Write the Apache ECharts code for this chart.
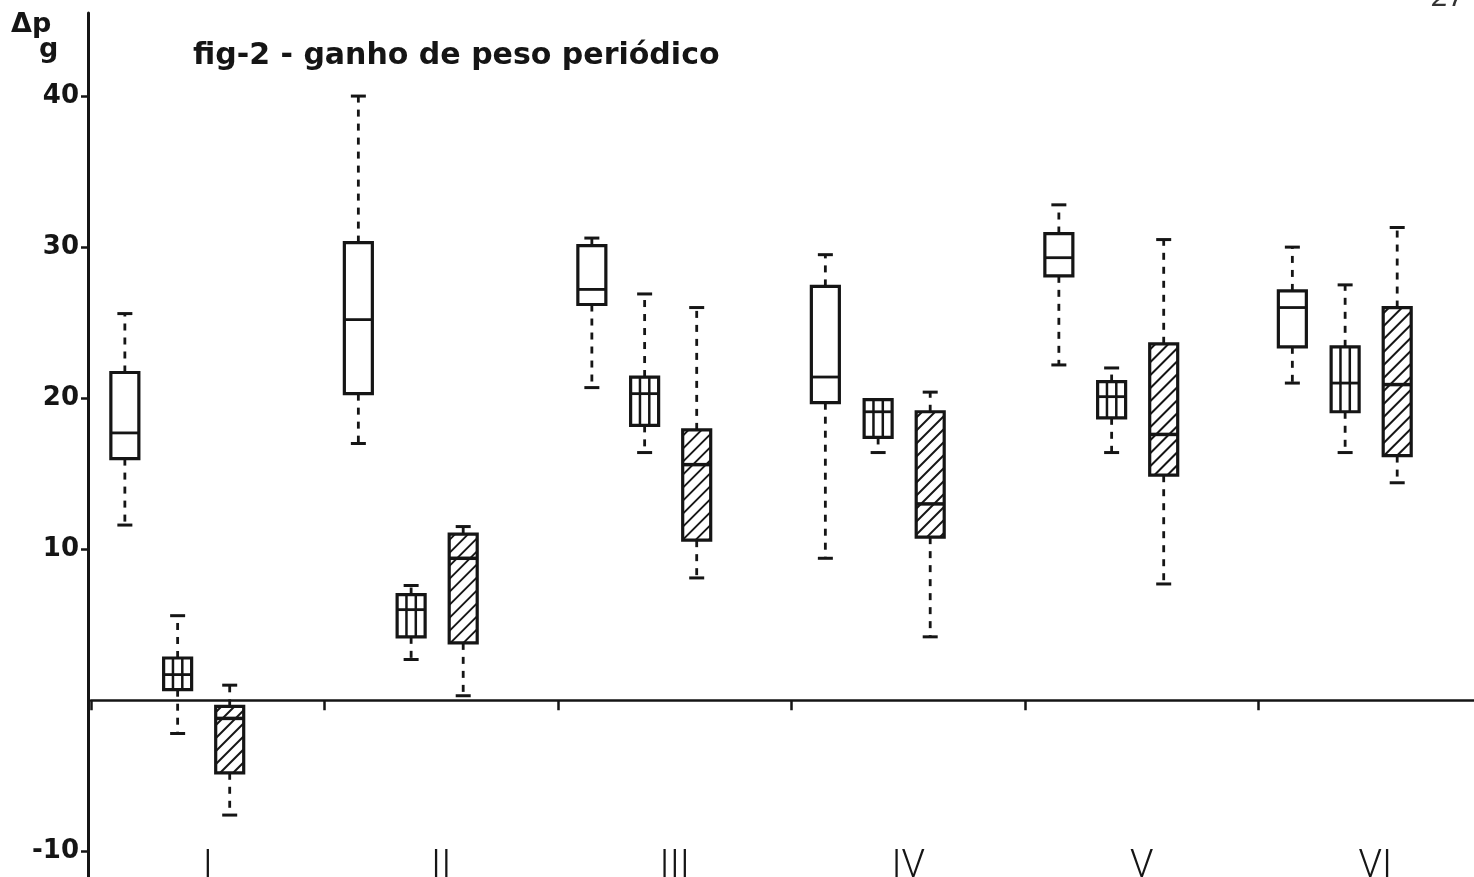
<!DOCTYPE html>
<html>
<head>
<meta charset="utf-8">
<script src="https://cdn.jsdelivr.net/npm/echarts@6/dist/echarts.min.js"></script>
<style>
  html, body { margin: 0; padding: 0; background: #fff; }
  #chart { width: 1474px; height: 877px; }
</style>
</head>
<body>
<div id="chart"></div>
<script>
// ---- data ----
const categories = ['I', 'II', 'III', 'IV', 'V', 'VI'];
const yTicks = [-10, 10, 20, 30, 40];
// each entry: [low whisker, Q1, median, Q3, high whisker]
const plainBoxes = [
  [11.6, 16.0, 17.7, 21.7, 25.6],
  [17.0, 20.3, 25.2, 30.3, 40.0],
  [20.7, 26.2, 27.2, 30.1, 30.6],
  [9.4, 19.7, 21.4, 27.4, 29.5],
  [22.2, 28.1, 29.3, 30.9, 32.8],
  [21.0, 23.4, 26.0, 27.1, 30.0]
];
const gridBoxes = [
  [-2.2, 0.7, 1.7, 2.8, 5.6],
  [2.7, 4.2, 6.0, 7.0, 7.6],
  [16.4, 18.2, 20.3, 21.4, 26.9],
  [16.4, 17.4, 19.1, 19.9, 19.9],
  [16.4, 18.7, 20.1, 21.1, 22.0],
  [16.4, 19.1, 21.0, 23.4, 27.5]
];
const hatchBoxes = [
  [-7.6, -4.8, -1.2, -0.4, 1.0],
  [0.3, 3.8, 9.4, 11.0, 11.5],
  [8.1, 10.6, 15.6, 17.9, 26.0],
  [4.2, 10.8, 13.0, 19.1, 20.4],
  [7.7, 14.9, 17.6, 23.6, 30.5],
  [14.4, 16.2, 20.9, 26.0, 31.3]
];

const INK = '#151515';

function boxRender(kind, frac) {
  return function (params, api) {
    const i = api.value(0);
    const band = api.size([1, 0])[0];
    const cx = api.coord([i, 0])[0] + frac * band;
    const py = k => api.coord([i, api.value(k)])[1];
    const yLow = py(1), yQ1 = py(2), yMed = py(3), yQ3 = py(4), yHigh = py(5);
    const w = 28, hw = w / 2, x0 = cx - hw, x1 = cx + hw;
    const capW = 15;
    const ch = [];
    const dashStyle = { stroke: INK, lineWidth: 2.8, lineDash: [7, 7] };
    const capStyle = { stroke: INK, lineWidth: 3 };
    if (yQ3 - yHigh > 1) {
      ch.push({ type: 'line', shape: { x1: cx, y1: yQ3, x2: cx, y2: yHigh }, style: dashStyle });
      ch.push({ type: 'line', shape: { x1: cx - capW / 2, y1: yHigh, x2: cx + capW / 2, y2: yHigh }, style: capStyle });
    }
    if (yLow - yQ1 > 1) {
      ch.push({ type: 'line', shape: { x1: cx, y1: yQ1, x2: cx, y2: yLow }, style: dashStyle });
      ch.push({ type: 'line', shape: { x1: cx - capW / 2, y1: yLow, x2: cx + capW / 2, y2: yLow }, style: capStyle });
    }
    ch.push({ type: 'rect', shape: { x: x0, y: yQ3, width: w, height: yQ1 - yQ3 }, style: { fill: '#fff', stroke: null } });
    if (kind === 'grid') {
      [1 / 3, 2 / 3].forEach(f => {
        const xx = x0 + f * w;
        ch.push({ type: 'line', shape: { x1: xx, y1: yQ3, x2: xx, y2: yQ1 }, style: { stroke: INK, lineWidth: 2.5 } });
      });
    }
    if (kind === 'hatch') {
      const step = 13;
      for (let k = x0 + yQ3 + 6; k < x1 + yQ1; k += step) {
        const xa = Math.max(x0, k - yQ1);
        const xb = Math.min(x1, k - yQ3);
        if (xb - xa > 0.5) {
          ch.push({ type: 'line', shape: { x1: xa, y1: k - xa, x2: xb, y2: k - xb }, style: { stroke: INK, lineWidth: 2 } });
        }
      }
    }
    ch.push({ type: 'line', shape: { x1: x0, y1: yMed, x2: x1, y2: yMed }, style: { stroke: INK, lineWidth: kind === 'hatch' ? 3.5 : 2.8 } });
    ch.push({ type: 'rect', shape: { x: x0, y: yQ3, width: w, height: yQ1 - yQ3 }, style: { fill: 'none', stroke: INK, lineWidth: 3.2 } });
    return { type: 'group', children: ch };
  };
}

function makeSeries(name, data, kind, frac) {
  return {
    type: 'custom',
    name: name,
    xAxisIndex: 0,
    yAxisIndex: 0,
    clip: false,
    data: data.map((d, i) => [i].concat(d)),
    encode: { x: 0, y: [1, 2, 3, 4, 5] },
    renderItem: boxRender(kind, frac),
    z: 5
  };
}

const chart = echarts.init(document.getElementById('chart'), null, { renderer: 'canvas' });
chart.setOption({
  backgroundColor: '#fff',
  animation: false,
  title: {
    text: 'fig-2 - ganho de peso periódico',
    left: 188,
    top: 36,
    textStyle: { fontFamily: 'DejaVu Sans', fontWeight: 'bold', fontSize: 30, color: INK }
  },
  graphic: [
    { type: 'text', left: 11, top: 11, style: { text: 'Δp', font: 'bold 27px "DejaVu Sans"', fill: INK } },
    { type: 'text', left: 39, top: 36, style: { text: 'g', font: 'bold 27px "DejaVu Sans"', fill: INK } },
    { type: 'text', left: 1432, top: -17, style: { text: '27', font: 'italic 30px "Liberation Sans"', fill: '#333' } }
  ],
  grid: { left: 91, top: 13, bottom: 0, width: 1401, outerBoundsMode: 'none', containLabel: false },
  xAxis: [
    {
      type: 'category',
      data: categories,
      boundaryGap: true,
      axisLine: { onZero: true, lineStyle: { color: INK, width: 2.5 } },
      axisTick: { show: true, length: 10, lineStyle: { color: INK, width: 2.5 } },
      axisLabel: { show: false },
      splitLine: { show: false }
    },
    {
      type: 'category',
      data: categories,
      position: 'bottom',
      axisLine: { show: false, onZero: false },
      axisTick: { show: false },
      axisLabel: {
        show: true, inside: true, margin: -9,
        fontFamily: 'Roboto', fontWeight: 300, fontSize: 38, color: INK
      },
      splitLine: { show: false }
    }
  ],
  yAxis: {
    type: 'value',
    min: -11.7,
    max: 45.5,
    offset: 3,
    axisLine: { show: true, onZero: false, lineStyle: { color: INK, width: 3 } },
    axisTick: { show: true, customValues: yTicks, length: 7, lineStyle: { color: INK, width: 2.5 } },
    axisLabel: {
      show: true, customValues: yTicks, margin: 9,
      fontFamily: 'DejaVu Sans', fontWeight: 'bold', fontSize: 26, color: INK
    },
    splitLine: { show: false }
  },
  series: [
    makeSeries('plain', plainBoxes, 'plain', -0.355),
    makeSeries('grid', gridBoxes, 'grid', -0.129),
    makeSeries('hatch', hatchBoxes, 'hatch', 0.094)
  ]
});
</script>
</body>
</html>
